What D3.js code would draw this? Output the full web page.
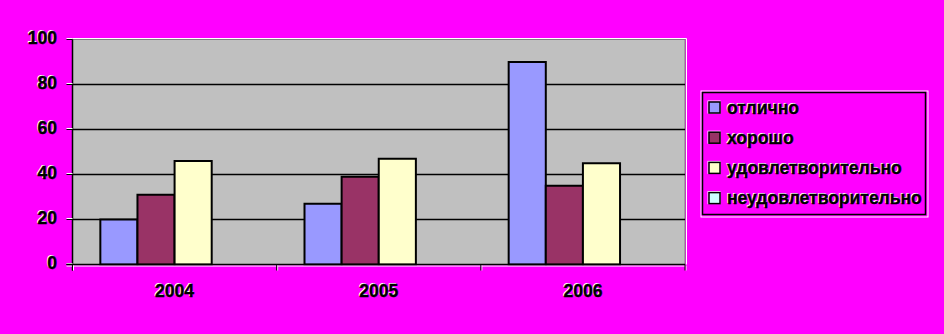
<!DOCTYPE html>
<html>
<head>
<meta charset="utf-8">
<script src="https://cdn.jsdelivr.net/npm/d3@7"></script>
<style>
  body { margin: 0; background: #ff00ff; }
  svg { display: block; }
  text { font-family: "Liberation Sans", Arial, sans-serif; font-weight: bold; }
</style>
</head>
<body>
<svg width="944" height="334"></svg>
<script>
'use strict'

const YEARS = ['2004', '2005', '2006'];
const SERIES = ['отлично', 'хорошо', 'удовлетворительно', 'неудовлетворительно'];
const COLORS = ['#9999ff', '#993366', '#ffffcc', '#ccffff'];
const Y_TICKS = [0, 20, 40, 60, 80, 100];

// values per series, one per year (null = no bar)
const OTLICHNO = [20, 27, 90];
const KHOROSHO = [31, 39, 35];
const UDOVL = [46, 47, 45];
const NEUDOVL = [null, null, null];
const VALUES = [OTLICHNO, KHOROSHO, UDOVL, NEUDOVL];

const PLOT = { left: 72.5, right: 685, top: 39.5, bottom: 264.5 };
const FONT = '17.5px';

const svg = d3.select('svg');

const x0 = d3.scaleBand()
  .domain(YEARS)
  .range([PLOT.left, PLOT.right]);

const bw = x0.bandwidth();
// excel style gap width of 150%
const x1 = d3.scaleBand()
  .domain(SERIES)
  .range([bw * 0.75 / 5.5, bw * 4.75 / 5.5]);

const y = d3.scaleLinear()
  .domain([0, 100])
  .range([PLOT.bottom, PLOT.top]);

// text with white shadow to the upper left
function shadowText(g, x, yy, str, anchor) {
  g.append('text')
    .attr('x', x - 1).attr('y', yy - 1)
    .attr('text-anchor', anchor)
    .attr('fill', '#fff')
    .text(str);
  g.append('text')
    .attr('x', x).attr('y', yy)
    .attr('text-anchor', anchor)
    .attr('fill', '#000')
    .attr('stroke', '#000')
    .attr('stroke-width', 0.4)
    .text(str);
}

// plot area
svg.append('line')
  .attr('x1', PLOT.left).attr('x2', PLOT.right + 1.5)
  .attr('y1', PLOT.top - 1).attr('y2', PLOT.top - 1)
  .attr('stroke', '#fff');
svg.append('line')
  .attr('x1', PLOT.right + 1.5).attr('x2', PLOT.right + 1.5)
  .attr('y1', PLOT.top - 1).attr('y2', PLOT.bottom)
  .attr('stroke', '#fff');
svg.append('rect')
  .attr('x', PLOT.left).attr('y', PLOT.top)
  .attr('width', PLOT.right - PLOT.left)
  .attr('height', PLOT.bottom - PLOT.top)
  .attr('fill', '#c0c0c0')
  .attr('stroke', '#808080');

// gridlines
svg.append('g')
  .selectAll('line')
  .data(Y_TICKS.filter(d => d > 0 && d < 100))
  .join('line')
  .attr('x1', PLOT.left).attr('x2', PLOT.right)
  .attr('y1', d => y(d)).attr('y2', d => y(d))
  .attr('stroke', '#000')
  .attr('stroke-width', 1.5);

// bars
const groups = svg.append('g')
  .selectAll('g')
  .data(YEARS)
  .join('g')
  .attr('transform', d => `translate(${x0(d)},0)`);

groups.selectAll('rect')
  .data((d, i) => SERIES.map((s, k) => ({ s, k, v: VALUES[k][i] })).filter(e => e.v != null))
  .join('rect')
  .attr('x', d => x1(d.s))
  .attr('width', x1.bandwidth())
  .attr('y', d => y(d.v))
  .attr('height', d => y(0) - y(d.v))
  .attr('fill', d => COLORS[d.k])
  .attr('stroke', '#000')
  .attr('stroke-width', 2);

// y axis
const yAxis = svg.append('g');
yAxis.append('line')
  .attr('x1', PLOT.left).attr('x2', PLOT.left)
  .attr('y1', PLOT.top).attr('y2', PLOT.bottom + 6)
  .attr('stroke', '#000').attr('stroke-width', 1.5);
Y_TICKS.forEach(t => {
  yAxis.append('line')
    .attr('x1', PLOT.left - 6).attr('x2', PLOT.left)
    .attr('y1', y(t) - 1).attr('y2', y(t) - 1)
    .attr('stroke', '#fff');
  yAxis.append('line')
    .attr('x1', PLOT.left - 6).attr('x2', PLOT.left)
    .attr('y1', y(t)).attr('y2', y(t))
    .attr('stroke', '#000');
  const g = yAxis.append('g').style('font-size', FONT);
  shadowText(g, 57, y(t) + 4, String(t), 'end');
});

// x axis
const xAxis = svg.append('g');
xAxis.append('line')
  .attr('x1', PLOT.left - 6).attr('x2', PLOT.right)
  .attr('y1', PLOT.bottom + 1.5).attr('y2', PLOT.bottom + 1.5)
  .attr('stroke', '#fff');
xAxis.append('line')
  .attr('x1', PLOT.left - 6).attr('x2', PLOT.right)
  .attr('y1', PLOT.bottom).attr('y2', PLOT.bottom)
  .attr('stroke', '#000').attr('stroke-width', 1.5);
YEARS.concat([null]).forEach((d, i) => {
  const xx = d ? x0(d) : PLOT.right;
  xAxis.append('line')
    .attr('x1', xx + 1).attr('x2', xx + 1)
    .attr('y1', PLOT.bottom + 1).attr('y2', PLOT.bottom + 6)
    .attr('stroke', '#fff');
  xAxis.append('line')
    .attr('x1', xx).attr('x2', xx)
    .attr('y1', PLOT.bottom).attr('y2', PLOT.bottom + 6)
    .attr('stroke', '#000');
});
YEARS.forEach(d => {
  const g = xAxis.append('g').style('font-size', FONT);
  shadowText(g, x0(d) + bw / 2, 297, d, 'middle');
});

// legend
const legend = svg.append('g');
legend.append('rect')
  .attr('x', 701).attr('y', 91)
  .attr('width', 227).attr('height', 126)
  .attr('fill', 'none').attr('stroke', '#fff');
legend.append('rect')
  .attr('x', 702.5).attr('y', 92.5)
  .attr('width', 223).attr('height', 122)
  .attr('fill', 'none').attr('stroke', '#000').attr('stroke-width', 1.5);

SERIES.forEach((s, i) => {
  const cy = 107.5 + i * 30.2;
  legend.append('rect')
    .attr('x', 708).attr('y', cy - 6.5)
    .attr('width', 12).attr('height', 12)
    .attr('fill', 'none').attr('stroke', '#fff');
  legend.append('rect')
    .attr('x', 709).attr('y', cy - 5.5)
    .attr('width', 11).attr('height', 11)
    .attr('fill', COLORS[i]).attr('stroke', '#000').attr('stroke-width', 1.5);
  const g = legend.append('g').style('font-size', FONT);
  shadowText(g, 727, cy + 6, s, 'start');
});
</script>
</body>
</html>
